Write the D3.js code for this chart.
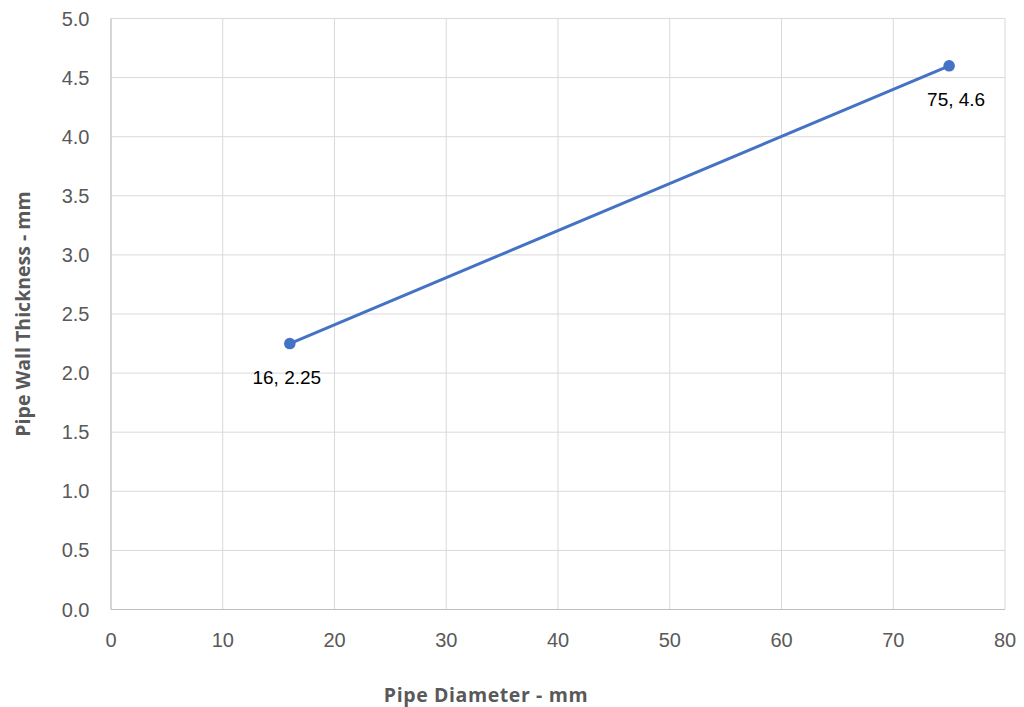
<!DOCTYPE html>
<html>
<head>
<meta charset="utf-8">
<script src="https://cdn.jsdelivr.net/npm/d3@7"></script>
<style>
  html, body { margin: 0; padding: 0; background: #fff; }
  svg { display: block; }
</style>
</head>
<body>
<svg id="chart" width="1024" height="707"></svg>
<script>
const xValues = [16, 75];
const yValues = [2.25, 4.6];
const pointLabels = ["16, 2.25", "75, 4.6"];
const xTicks = [0, 10, 20, 30, 40, 50, 60, 70, 80];
const yTicks = [0, 0.5, 1, 1.5, 2, 2.5, 3, 3.5, 4, 4.5, 5];
const xTitle = "Pipe Diameter - mm";
const yTitle = "Pipe Wall Thickness - mm";

(function () {
const svg = d3.select("#chart");
const pLeft = 111, pRight = 1005, pTop = 18.5, pBottom = 609.5;
const x = d3.scaleLinear().domain([0, 80]).range([pLeft, pRight]);
const y = d3.scaleLinear().domain([0, 5]).range([pBottom, pTop]);

// gridlines
svg.append("g").selectAll("line").data(yTicks).join("line")
  .attr("x1", pLeft).attr("x2", pRight)
  .attr("y1", d => y(d)).attr("y2", d => y(d))
  .attr("stroke", "#d9d9d9").attr("stroke-width", 1);
svg.append("g").selectAll("line").data(xTicks).join("line")
  .attr("x1", d => x(d)).attr("x2", d => x(d))
  .attr("y1", pTop).attr("y2", pBottom)
  .attr("stroke", "#d9d9d9").attr("stroke-width", 1);

// axis lines
svg.append("line").attr("x1", pLeft).attr("x2", pLeft).attr("y1", pTop).attr("y2", pBottom)
  .attr("stroke", "#bfbfbf").attr("stroke-width", 1);
svg.append("line").attr("x1", pLeft).attr("x2", pRight).attr("y1", pBottom).attr("y2", pBottom)
  .attr("stroke", "#bfbfbf").attr("stroke-width", 1);

// tick labels
const tickFont = "'Liberation Sans', Arial, sans-serif";
svg.append("g").selectAll("text").data(yTicks).join("text")
  .attr("x", 89.5).attr("y", d => y(d)).attr("dy", "0.35em")
  .attr("text-anchor", "end")
  .attr("font-family", tickFont).attr("font-size", 20).attr("fill", "#595959")
  .text(d => d3.format(".1f")(d));
svg.append("g").selectAll("text").data(xTicks).join("text")
  .attr("x", d => x(d)).attr("y", 647)
  .attr("text-anchor", "middle")
  .attr("font-family", tickFont).attr("font-size", 20).attr("fill", "#595959")
  .text(d => d);

// axis titles
svg.append("text").attr("x", 486).attr("y", 702).attr("text-anchor", "middle")
  .attr("font-family", "'Open Sans', sans-serif").attr("font-weight", "bold")
  .attr("font-size", 19.5).attr("letter-spacing", 0.6).attr("fill", "#595959").text(xTitle);
svg.append("text").attr("transform", "translate(30,314) rotate(-90)").attr("text-anchor", "middle")
  .attr("font-family", "'Open Sans', sans-serif").attr("font-weight", "bold")
  .attr("font-size", 19.5).attr("fill", "#595959").text(yTitle);

// line
const pts = xValues.map((d, i) => [d, yValues[i]]);
svg.append("path").datum(pts)
  .attr("d", d3.line().x(d => x(d[0])).y(d => y(d[1])))
  .attr("fill", "none").attr("stroke", "#4472C4").attr("stroke-width", 3);
svg.append("g").selectAll("circle").data(pts).join("circle")
  .attr("cx", d => x(d[0])).attr("cy", d => y(d[1])).attr("r", 5.8)
  .attr("fill", "#4472C4");

// data labels
svg.append("g").selectAll("text").data(pts).join("text")
  .attr("x", d => x(d[0]) + (d[0] === 75 ? 7 : -3)).attr("y", d => y(d[1]) + 40.5)
  .attr("text-anchor", "middle")
  .attr("font-family", tickFont).attr("font-size", 19).attr("fill", "#000")
  .text((d, i) => pointLabels[i]);
})();
</script>
</body>
</html>
